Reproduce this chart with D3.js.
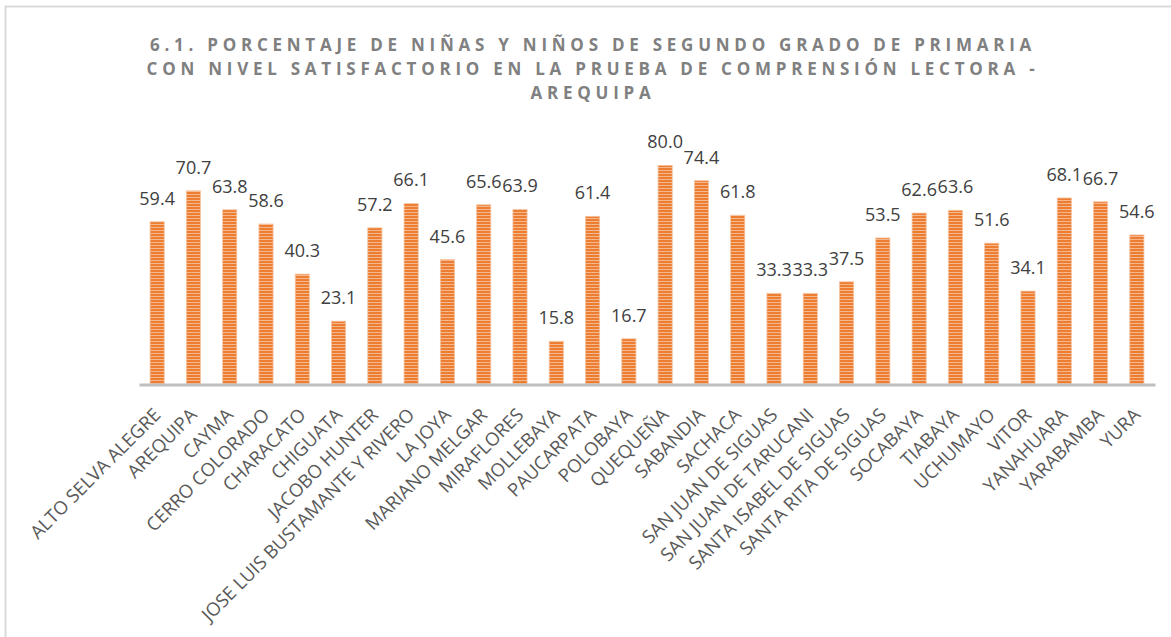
<!DOCTYPE html>
<html>
<head>
<meta charset="utf-8">
<script src="https://cdn.jsdelivr.net/npm/d3@7"></script>
<style>
  html, body { margin: 0; padding: 0; background: #fff; }
  svg { display: block; }
</style>
</head>
<body>
<svg id="chart" width="1171" height="637"></svg>
<script>
const categories = [
  "ALTO SELVA ALEGRE", "AREQUIPA", "CAYMA", "CERRO COLORADO", "CHARACATO", "CHIGUATA",
  "JACOBO HUNTER", "JOSE LUIS BUSTAMANTE Y RIVERO", "LA JOYA", "MARIANO MELGAR", "MIRAFLORES",
  "MOLLEBAYA", "PAUCARPATA", "POLOBAYA", "QUEQUEÑA", "SABANDIA", "SACHACA",
  "SAN JUAN DE SIGUAS", "SAN JUAN DE TARUCANI", "SANTA ISABEL DE SIGUAS", "SANTA RITA DE SIGUAS",
  "SOCABAYA", "TIABAYA", "UCHUMAYO", "VITOR", "YANAHUARA", "YARABAMBA", "YURA"
];
const values = [
  59.4, 70.7, 63.8, 58.6, 40.3, 23.1,
  57.2, 66.1, 45.6, 65.6, 63.9,
  15.8, 61.4, 16.7, 80.0, 74.4, 61.8,
  33.3, 33.3, 37.5, 53.5,
  62.6, 63.6, 51.6, 34.1, 68.1, 66.7, 54.6
];
const titleLines = [
  "6.1. PORCENTAJE DE NIÑAS Y NIÑOS DE SEGUNDO GRADO DE PRIMARIA",
  "CON NIVEL SATISFACTORIO EN LA PRUEBA DE COMPRENSIÓN LECTORA -",
  "AREQUIPA"
];
const yDomain = [0, 90];

const svg = d3.select("#chart");

// chart area border (top and left visible)
svg.append("rect")
  .attr("x", 5.5).attr("y", 6.5)
  .attr("width", 1200).attr("height", 700)
  .attr("fill", "none").attr("stroke", "#d9d9d9").attr("stroke-width", 2);

// pattern
const defs = svg.append("defs");
const pat = defs.append("pattern")
  .attr("id", "stripes")
  .attr("patternUnits", "userSpaceOnUse")
  .attr("width", 6).attr("height", 3);
pat.append("rect").attr("width", 6).attr("height", 3).attr("fill", "#f5b88e");
pat.append("rect").attr("width", 6).attr("height", 2).attr("fill", "#ed7d31");

// title
const title = svg.append("text")
  .attr("text-anchor", "middle")
  .attr("font-family", "'Open Sans', sans-serif")
  .attr("font-weight", "bold")
  .attr("font-size", 17)
  .attr("letter-spacing", "4.75px")
  .attr("fill", "#808080");
titleLines.forEach((t, i) => {
  title.append("tspan").attr("x", 593).attr("y", 51 + i * 24).text(t);
});

const margin = { left: 139, right: 1155, top: 138, bottom: 384.5 };

const x = d3.scaleBand()
  .domain(categories)
  .range([margin.left, margin.right])
  .paddingInner(0.61)
  .paddingOuter(0.305);

const y = d3.scaleLinear()
  .domain(yDomain)
  .range([margin.bottom, margin.top]);

// bars
svg.append("g").selectAll("rect")
  .data(values)
  .join("rect")
  .attr("x", (d, i) => x(categories[i]))
  .attr("y", d => y(d))
  .attr("width", x.bandwidth())
  .attr("height", d => y(0) - y(d))
  .attr("fill", "url(#stripes)")
  .attr("stroke", "#f6c3a0")
  .attr("stroke-width", 0.8);

// x axis
const xAxis = svg.append("g")
  .attr("transform", `translate(0,${margin.bottom})`)
  .call(d3.axisBottom(x).tickSize(0).tickPadding(0));
xAxis.select(".domain").attr("stroke", "#bfbfbf").attr("stroke-width", 3);
xAxis.selectAll(".tick text")
  .attr("font-family", "'Open Sans', sans-serif")
  .attr("font-size", 18.5)
  .attr("fill", "#595959")
  .attr("text-anchor", "end")
  .attr("dy", "0.35em")
  .attr("transform", "translate(0,27) rotate(-45)")
  .attr("y", 0).attr("x", 0);

// data labels
svg.append("g").selectAll("text")
  .data(values)
  .join("text")
  .attr("x", (d, i) => x(categories[i]) + x.bandwidth() / 2)
  .attr("y", d => y(d) - 17)
  .attr("text-anchor", "middle")
  .attr("font-family", "'Open Sans', sans-serif")
  .attr("font-size", 18)
  .attr("fill", "#404040")
  .text(d => d.toFixed(1));
</script>
</body>
</html>
